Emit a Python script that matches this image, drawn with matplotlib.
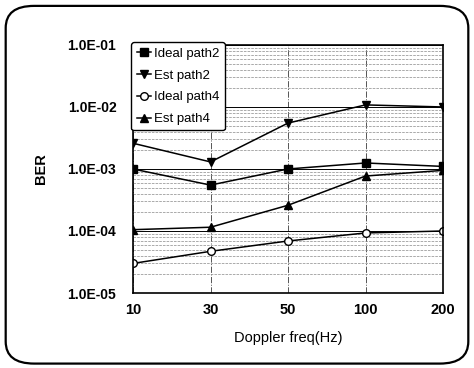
import matplotlib
matplotlib.use("Agg")
import matplotlib.pyplot as plt
from matplotlib.patches import FancyBboxPatch
from matplotlib.ticker import FixedLocator, LogLocator, NullFormatter

plt.rcParams["font.family"] = ["Liberation Sans", "DejaVu Sans"]

freqs = ["10", "30", "50", "100", "200"]
ideal_path2 = [1.0e-3, 5.5e-4, 1.0e-3, 1.25e-3, 1.1e-3]
est_path2 = [2.6e-3, 1.3e-3, 5.5e-3, 1.08e-2, 1.0e-2]
ideal_path4 = [3.0e-5, 4.7e-5, 6.9e-5, 9.3e-5, 1.0e-4]
est_path4 = [1.05e-4, 1.15e-4, 2.6e-4, 7.7e-4, 9.5e-4]
y_ticks = [1e-5, 1e-4, 1e-3, 1e-2, 1e-1]
y_labels = ["1.0E-05", "1.0E-04", "1.0E-03", "1.0E-02", "1.0E-01"]

fig = plt.figure(figsize=(4.74, 3.68), dpi=100)
ax = fig.add_axes([0.2806, 0.2038, 0.654, 0.674])

# rounded frame round the whole chart
frame = FancyBboxPatch((0.012, 0.012), 0.976, 0.972,
                       boxstyle="round,pad=0,rounding_size=0.06",
                       transform=fig.transFigure, fill=False,
                       edgecolor="black", linewidth=1.6, clip_on=False)
fig.patches.append(frame)

x = range(len(freqs))
ax.plot(x, ideal_path2, "-s", color="black", ms=5.5, lw=1.1, label="Ideal path2")
ax.plot(x, est_path2, "-v", color="black", ms=5.5, lw=1.1, label="Est path2")
ax.plot(x, ideal_path4, "-o", color="black", mfc="white", ms=5.5, lw=1.1,
        label="Ideal path4")
ax.plot(x, est_path4, "-^", color="black", ms=5.5, lw=1.1, label="Est path4")

ax.set_yscale("log")
ax.set_ylim(1e-5, 1e-1)
ax.set_xlim(0, len(freqs) - 1)
ax.set_xticks(list(x))
ax.set_xticklabels(freqs, fontsize=10.5, fontweight="bold")
ax.yaxis.set_major_locator(FixedLocator(y_ticks))
ax.set_yticklabels(y_labels, fontsize=10, fontweight="bold")
ax.yaxis.set_minor_locator(LogLocator(base=10, subs=range(2, 10)))
ax.yaxis.set_minor_formatter(NullFormatter())
ax.tick_params(axis="both", which="both", length=0, pad=12)
ax.tick_params(axis="x", pad=7)

ax.grid(True, axis="y", which="major", color="black", lw=0.7)
ax.grid(True, axis="y", which="minor", color="#888888", lw=0.5, ls="--")
ax.grid(True, axis="x", which="major", color="#555555", lw=0.7, ls="-.")
for s in ax.spines.values():
    s.set_linewidth(1.2)

ax.set_xlabel("Doppler freq(Hz)", fontsize=10.5, labelpad=10)
ax.set_ylabel("BER", fontsize=10.5, fontweight="bold", labelpad=14)

leg = ax.legend(loc="upper left", bbox_to_anchor=(-0.005, 1.01), fontsize=9.5,
                handlelength=1.1, handletextpad=0.2, labelspacing=0.72,
                borderpad=0.4, fancybox=True, framealpha=1, edgecolor="black",
                borderaxespad=0)
leg.get_frame().set_linewidth(1.0)

fig.savefig("out.png", dpi=100)
